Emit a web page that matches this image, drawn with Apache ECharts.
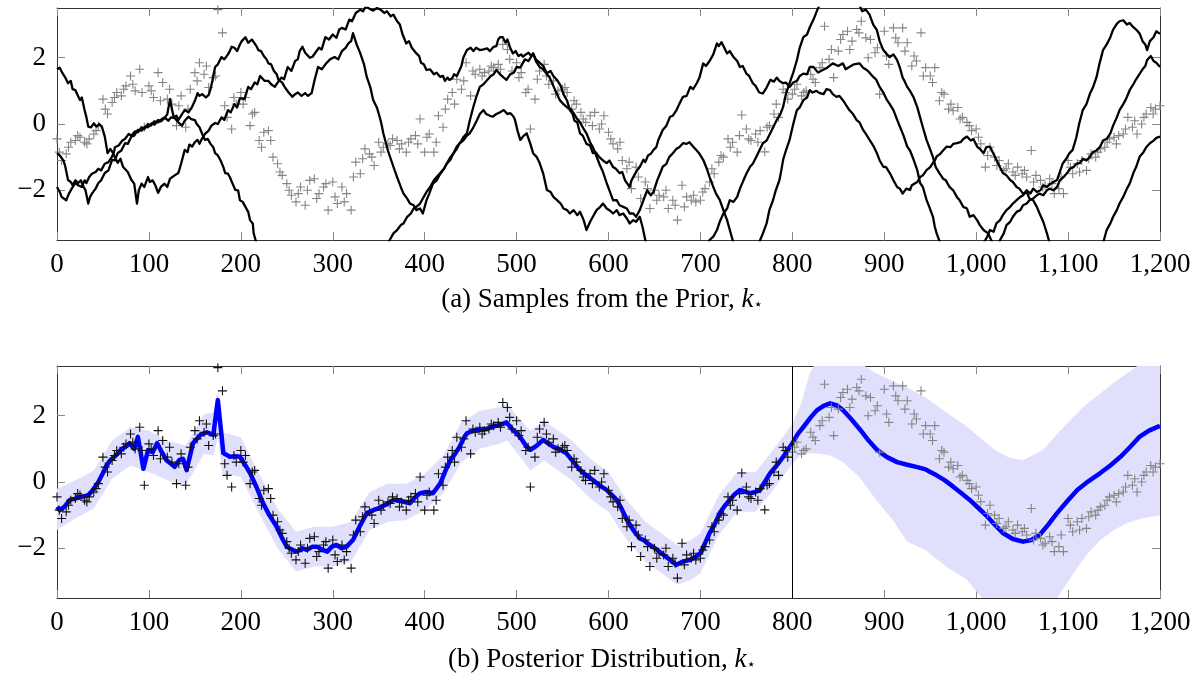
<!DOCTYPE html>
<html><head><meta charset="utf-8">
<script src="https://cdn.jsdelivr.net/npm/echarts@6/dist/echarts.min.js"></script>
<style>html,body{margin:0;padding:0;background:#fff}#c{width:1204px;height:695px}</style>
</head><body><div id="c"></div>
<script>
// ---------- data ----------
const xMin = 0, xMax = 1200, xStep = 100;
const yMin = -3.5, yMax = 3.5;
const yTickValues = [-2, 0, 2];
const splitX = 800;            // training / test boundary
const dataStep = 5;            // observations every 5 units, starting at 0
const dataY = [
  -0.45,-1.1,-0.9,-0.55,-0.5,-0.4,-0.55,-0.45,-0.3,-0.05,0.75,0.3,0.65,0.95,0.85,1.15,1.45,1.0,1.65,-0.1,
  1.15,0.8,1.55,1.25,0.75,0.6,-0.05,0.85,-0.1,1.05,1.55,1.85,1.5,1.1,1.4,3.45,2.75,0.2,-0.15,0.6,
  0.95,0.8,-0.05,0.35,-0.5,-0.25,-0.2,-1.0,-1.2,-1.55,-1.8,-2.15,-2.35,-1.9,-2.45,-1.7,-1.65,-2.1,-1.9,-2.6,
  -1.75,-2.4,-1.9,-2.1,-2.6,-1.15,-1.5,-0.75,-0.9,-1.25,-0.55,-0.7,-0.6,-0.45,-0.5,-0.6,-0.85,-0.45,-0.35,0.15,
  -0.85,-0.3,-0.85,0.25,-0.1,0.75,0.95,1.35,1.05,1.85,0.85,1.5,1.65,1.55,1.6,1.7,1.8,2.4,2.25,1.6,
  1.85,1.55,0.95,-0.15,0.75,1.6,1.8,1.2,1.3,1.0,1.05,0.95,0.45,0.6,0.35,0.05,0.25,0.35,-0.15,0.25,
  -0.25,-0.6,-0.75,-1.1,-1.35,-1.95,-1.3,-2.25,-1.75,-2.55,-2.0,-2.15,-2.2,-2.55,-2.3,-2.9,-1.85,-2.2,-2.3,-2.35,
  -2.3,-1.95,-1.75,-1.5,-1.15,-1.0,-0.45,-0.55,-0.85,0.27,-0.15,-0.5,-0.3,-0.2,-0.84,-0.05,0.3,0.2,1.05,0.75,
  0.9,1.2,0.85,1.0,1.5,1.25,1.7,2.95,1.95,1.4,2.2,2.7,2.8,2.5,2.85,3.1,2.6,2.55,2.15,0.9,
  2.8,1.8,2.9,2.45,2.9,2.45,1.75,1.9,2.75,1.7,1.45,1.7,0.7,0.9,0.45,0.4,0.5,0.2,0.05,-0.2,
  -0.15,-0.6,-1.3,-0.7,-1.0,-1.1,-1.4,-1.2,-1.45,-1.3,-1.5,-1.6,-0.8,-1.55,-1.7,-1.85,-1.65,-2.1,-1.95,-2.1,
  -1.1,-1.5,-1.2,-1.1,-1.4,-0.9,-1.0,-0.75,-0.7,-0.45,-0.4,-0.35,-0.3,0.2,-0.1,-0.3,0.0,0.3,0.5,0.45,0.55
];
const data2Start = 2.5, data2Step = 10;   // second interleaved set of observations
const dataY2 = [
  -0.85,-0.7,-0.35,-0.6,-0.2,0.45,0.8,1.05,1.2,0.95,
  1.0,0.7,1.05,0.55,0.45,1.3,1.75,1.45,0.55,0.8,
  0.6,0.3,-0.7,-0.5,-1.45,-2.0,-2.1,-2.0,-2.25,-1.8,
  -2.2,-2.35,-1.6,-1.05,-1.0,-0.85,-0.65,-0.75,-0.55,-0.6,
  -0.4,-0.55,0.45,0.6,1.3,1.6,1.45,1.75,1.65,1.95,
  1.4,1.05,1.35,1.45,0.9,1.1,0.7,0.15,-0.05,0.0,
  -0.45,-0.55,-1.15,-1.6,-1.95,-2.3,-2.0,-2.45,-2.5,-2.15,
  -2.05,-1.35,-0.95,-0.7,-0.35,-0.45,-0.55,-0.1,0.6,0.95,
  1.05,0.95,1.35,1.85,2.25,2.55,2.25,2.75,2.0,2.3,
  2.05,2.6,2.2,2.05,1.45,1.25,0.95,0.6,0.15,-0.05,
  -0.4,-0.95,-1.25,-1.35,-1.55,-1.4,-1.75,-1.9,-1.8,-1.6,
  -1.3,-1.45,-1.05,-0.85,-0.55,-0.6,-0.15,0.1,0.2,0.3
];

// posterior mean [x, y]
const posteriorMean = [[0,-0.75],[3,-0.85],[8,-0.75],[14,-0.54],[20,-0.5],[28,-0.44],[34,-0.4],[39,-0.24],[45,0.0],[50,0.27],[54,0.5],[58,0.66],[64,0.8],[69,0.96],[74,1.05],[79,1.17],[84,1.0],[88,1.36],[94,0.4],[99,0.96],[104,0.9],[109,1.17],[114,0.9],[119,0.66],[124,0.55],[128,0.46],[133,0.66],[137,0.7],[141,0.36],[148,1.17],[152,1.3],[156,1.42],[163,1.5],[170,1.42],[175,2.47],[181,0.87],[188,0.76],[194,0.78],[199,0.76],[205,0.5],[210,0.27],[217,-0.15],[224,-0.63],[231,-1.0],[239,-1.35],[245,-1.7],[250,-1.95],[256,-2.05],[261,-2.1],[267,-2.0],[272,-2.05],[278,-1.95],[283,-1.95],[289,-2.05],[294,-2.1],[299,-1.95],[304,-1.9],[310,-2.0],[315,-1.95],[322,-1.75],[330,-1.3],[337,-0.94],[344,-0.85],[351,-0.78],[358,-0.68],[366,-0.54],[375,-0.58],[384,-0.64],[390,-0.45],[395,-0.34],[402,-0.3],[409,-0.34],[417,-0.04],[422,0.3],[428,0.66],[433,0.85],[438,1.06],[442,1.3],[446,1.47],[453,1.55],[460,1.57],[467,1.6],[474,1.67],[482,1.72],[489,1.8],[496,1.57],[501,1.45],[506,1.27],[510,1.1],[515,0.97],[522,1.1],[529,1.27],[535,1.15],[540,1.06],[547,0.98],[554,0.87],[562,0.6],[569,0.36],[576,0.2],[583,0.06],[590,-0.1],[598,-0.24],[604,-0.4],[609,-0.54],[615,-0.85],[620,-1.14],[627,-1.45],[634,-1.7],[638,-1.75],[645,-1.9],[653,-2.05],[660,-2.2],[667,-2.35],[674,-2.5],[681,-2.4],[689,-2.35],[695,-2.25],[700,-2.15],[705,-1.85],[710,-1.54],[716,-1.25],[721,-0.94],[727,-0.7],[732,-0.54],[737,-0.38],[743,-0.24],[749,-0.3],[754,-0.34],[760,-0.3],[765,-0.24],[770,0.0],[776,0.27],[783,0.5],[790,0.76],[796,1.0],[801,1.21],[806,1.45],[812,1.66],[820,1.95],[827,2.17],[834,2.3],[841,2.37],[848,2.32],[855,2.17],[864,1.9],[874,1.57],[883,1.25],[892,0.97],[903,0.75],[914,0.6],[925,0.52],[936,0.45],[945,0.38],[950,0.3],[957,0.2],[966,0.05],[975,-0.14],[984,-0.34],[993,-0.54],[1003,-0.8],[1012,-1.04],[1020,-1.28],[1029,-1.54],[1040,-1.72],[1051,-1.8],[1060,-1.75],[1069,-1.6],[1078,-1.3],[1088,-0.94],[1099,-0.58],[1110,-0.24],[1122,0.02],[1135,0.27],[1146,0.5],[1157,0.76],[1168,1.07],[1178,1.37],[1188,1.55],[1198,1.67],[1200,1.7]];

// posterior band [x, lower, upper]
const posteriorBand = [[0,-1.45,-0.2],[20,-1.1,0.05],[40,-0.8,0.35],[60,0.1,1.25],[80,0.5,1.65],[100,0.3,1.55],[120,0.05,1.25],[140,-0.1,1.1],[160,0.85,2.05],[170,0.8,2.1],[175,1.3,2.8],[180,0.25,1.5],[200,0.15,1.35],[220,-0.95,0.25],[240,-2.0,-0.8],[260,-2.7,-1.5],[280,-2.55,-1.35],[300,-2.55,-1.35],[320,-2.4,-1.2],[340,-1.45,-0.3],[360,-1.2,-0.05],[380,-1.15,-0.05],[400,-0.85,0.25],[420,-0.35,0.8],[440,0.6,1.8],[460,1.0,2.15],[480,1.15,2.25],[490,1.25,2.35],[500,0.9,2.0],[515,0.35,1.55],[530,0.65,1.85],[560,0.05,1.25],[580,-0.5,0.7],[600,-0.9,0.3],[620,-1.75,-0.55],[640,-2.4,-1.2],[660,-2.8,-1.6],[675,-3.1,-1.9],[690,-2.95,-1.75],[700,-2.75,-1.55],[720,-1.6,-0.4],[740,-0.9,0.3],[760,-0.9,0.3],[780,-0.2,1.0],[800,0.55,1.75],[810,0.85,2.4],[819,0.87,3.3],[830,0.85,3.8],[841,0.8,4.0],[855,0.6,3.95],[873,0.15,3.6],[890,-0.5,3.3],[909,-1.14,3.05],[925,-1.8,2.85],[945,-2.05,2.55],[954,-2.26,2.37],[970,-2.6,2.05],[990,-2.95,1.67],[1006,-3.5,1.3],[1020,-3.9,0.97],[1035,-4.2,0.75],[1051,-4.3,0.66],[1073,-3.9,0.97],[1088,-3.5,1.45],[1106,-2.75,1.97],[1120,-2.2,2.35],[1135,-1.75,2.67],[1150,-1.45,3.0],[1164,-1.24,3.27],[1180,-1.1,3.6],[1200,-1.0,4.2]];

// prior samples [x, y] (values beyond +-3.5 lie outside the plot)
const sample1 = [[0,1.65],[3,1.7],[5,1.58],[7,1.62],[9,1.4],[12,1.23],[15,1.3],[17,1.05],[20,1.02],[22,0.9],[25,0.72],[27,0.8],[30,0.42],[32,0.2],[34,-0.08],[37,-0.1],[40,0.02],[43,-0.08],[46,0.0],[49,-0.1],[52,-0.38],[55,-0.88],[58,-0.75],[61,-0.88],[63,-1.0],[66,-1.17],[69,-1.05],[72,-1.3],[74,-1.28],[77,-1.45],[81,-1.69],[84,-1.8],[87,-2.4],[89,-2.0],[92,-1.8],[95,-1.9],[99,-1.6],[101,-1.75],[104,-1.7],[107,-1.85],[110,-2.08],[113,-1.9],[117,-1.8],[120,-1.9],[123,-1.65],[125,-1.69],[128,-1.55],[132,-1.48],[135,-1.2],[139,-0.78],[142,-0.85],[144,-0.62],[147,-0.68],[150,-0.55],[153,-0.48],[155,-0.6],[157,-0.48],[161,-0.3],[165,-0.2],[168,-0.05],[172,0.03],[175,0.0],[179,0.2],[182,0.12],[186,0.42],[189,0.35],[193,0.6],[196,0.5],[199,0.78],[201,0.82],[204,0.75],[208,1.12],[211,1.05],[215,1.25],[218,1.2],[221,1.45],[223,1.42],[226,1.3],[230,1.3],[233,1.2],[237,1.12],[240,1.25],[244,1.4],[247,1.35],[251,1.72],[255,1.6],[259,1.9],[262,1.95],[264,2.2],[267,2.33],[270,2.15],[272,2.2],[275,2.0],[278,2.03],[281,2.15],[285,2.3],[288,2.25],[292,2.62],[296,2.55],[300,2.7],[304,2.6],[307,2.85],[310,2.9],[314,2.85],[318,3.15],[321,3.1],[325,3.35],[330,3.45],[333,3.4],[336,3.55],[340,3.48],[344,3.42],[348,3.5],[352,3.45],[356,3.35],[359,3.4],[363,3.25],[366,3.3],[370,3.1],[373,3.0],[376,2.7],[380,2.43],[383,2.5],[386,2.3],[388,2.35],[391,2.13],[394,2.05],[396,1.85],[399,1.8],[402,1.63],[406,1.65],[410,1.5],[413,1.55],[417,1.42],[420,1.45],[422,1.3],[425,1.4],[427,1.33],[430,1.38],[432,1.5],[435,1.45],[438,1.63],[440,1.75],[442,2.0],[444,1.95],[446,2.23],[450,2.3],[453,2.2],[456,2.3],[460,2.23],[464,2.25],[468,2.28],[471,2.2],[475,2.33],[478,2.35],[480,2.55],[482,2.62],[485,2.62],[488,2.45],[490,2.55],[493,2.3],[496,2.13],[499,2.2],[502,2.05],[505,2.1],[507,2.03],[510,2.1],[513,2.15],[516,2.05],[518,2.13],[521,1.95],[525,1.85],[529,1.75],[533,1.53],[537,1.6],[540,1.45],[542,1.5],[544,1.33],[548,1.15],[551,0.9],[555,0.7],[558,0.42],[561,0.3],[563,0.1],[566,0.05],[569,-0.28],[572,-0.35],[576,-0.6],[580,-0.65],[583,-0.88],[586,-0.85],[590,-1.0],[594,-1.1],[598,-1.18],[601,-1.1],[605,-1.3],[608,-1.35],[612,-1.48],[615,-1.45],[618,-1.7],[620,-1.65],[623,-1.9],[625,-1.7],[628,-1.55],[631,-1.4],[634,-1.3],[638,-1.08],[640,-1.15],[643,-0.95],[646,-0.9],[649,-0.78],[652,-0.7],[654,-0.5],[656,-0.45],[659,-0.18],[663,-0.05],[667,0.22],[670,0.25],[674,0.42],[677,0.6],[681,0.82],[685,0.85],[689,1.12],[692,1.05],[696,1.23],[699,1.4],[703,1.83],[706,1.75],[710,1.9],[714,2.1],[718,2.43],[720,2.35],[723,2.47],[726,2.3],[729,2.13],[732,2.2],[736,2.02],[740,1.9],[743,1.72],[746,1.75],[750,1.52],[753,1.45],[757,1.23],[760,1.15],[764,0.95],[768,0.92],[772,1.1],[776,1.33],[780,1.28],[783,1.4],[786,1.3],[790,1.23],[793,1.25],[797,1.12],[801,1.25],[805,1.3],[808,1.45],[812,1.52],[816,1.5],[819,1.72],[823,1.72],[828,1.55],[833,1.63],[838,1.7],[844,1.83],[850,1.75],[855,1.83],[858,1.65],[862,1.72],[867,1.8],[873,1.83],[877,1.7],[881,1.63],[884,1.55],[888,1.42],[891,1.35],[895,1.12],[899,0.95],[903,0.72],[906,0.6],[910,0.42],[913,0.2],[917,-0.08],[921,-0.35],[925,-0.68],[928,-0.8],[932,-1.08],[936,-1.4],[939,-1.78],[942,-1.9],[946,-2.29],[949,-2.5],[953,-2.8],[955,-3.1],[957,-3.3],[961,-3.6],[980,-4.5],[1100,-4.5],[1138,-3.6],[1142,-3.2],[1146,-3.0],[1149,-2.8],[1153,-2.6],[1156,-2.4],[1160,-2.2],[1164,-1.95],[1167,-1.8],[1171,-1.48],[1174,-1.3],[1178,-0.98],[1182,-0.85],[1185,-0.7],[1189,-0.58],[1193,-0.5],[1196,-0.42],[1200,-0.38]];
const sample2 = [[0,-0.88],[3,-0.95],[5,-1.0],[7,-1.1],[9,-1.28],[12,-1.69],[15,-1.75],[17,-1.85],[20,-1.7],[23,-1.78],[26,-1.7],[28,-1.85],[31,-2.0],[34,-2.4],[36,-2.2],[38,-2.1],[42,-1.95],[45,-1.78],[48,-1.7],[52,-1.48],[56,-1.4],[60,-1.08],[63,-1.1],[66,-0.88],[70,-0.8],[74,-0.58],[77,-0.6],[81,-0.38],[84,-0.35],[88,-0.18],[92,-0.2],[96,-0.08],[99,-0.1],[103,0.02],[106,-0.02],[110,0.12],[113,0.08],[117,0.18],[120,0.3],[123,0.75],[125,0.45],[127,0.2],[130,0.25],[132,0.12],[136,0.3],[139,0.42],[143,0.35],[147,0.52],[150,0.7],[153,0.93],[155,0.85],[158,0.9],[162,0.8],[165,0.88],[167,1.05],[169,1.3],[172,1.72],[175,1.8],[179,2.02],[182,1.95],[186,2.1],[188,2.2],[190,2.33],[193,2.3],[196,2.2],[199,2.4],[201,2.5],[203,2.45],[205,2.62],[208,2.45],[210,2.4],[212,2.55],[214,2.5],[217,2.35],[219,2.23],[222,2.2],[225,2.05],[228,1.95],[230,1.83],[233,1.8],[236,1.6],[239,1.5],[241,1.33],[245,1.25],[248,1.1],[252,0.95],[256,0.82],[259,0.9],[262,0.95],[266,0.85],[270,0.93],[273,0.85],[277,0.93],[280,1.3],[284,1.72],[288,1.65],[292,1.8],[297,1.95],[302,2.02],[306,1.95],[310,2.2],[314,2.3],[317,2.43],[320,2.5],[322,2.74],[326,2.4],[330,2.13],[334,1.8],[337,1.42],[341,1.1],[344,0.72],[348,0.5],[351,0.22],[353,0.0],[355,-0.28],[360,-0.8],[366,-1.29],[370,-1.6],[374,-1.9],[377,-2.1],[381,-2.25],[384,-2.4],[388,-2.45],[391,-2.6],[395,-2.55],[398,-2.7],[400,-2.5],[402,-2.3],[405,-2.1],[409,-1.8],[413,-1.7],[417,-1.5],[421,-1.35],[424,-1.2],[428,-1.0],[431,-0.9],[435,-0.68],[439,-0.55],[442,-0.4],[446,-0.28],[449,0.1],[453,0.52],[456,0.8],[460,1.12],[464,1.2],[468,1.33],[472,1.45],[475,1.5],[478,1.63],[482,1.5],[486,1.4],[489,1.33],[493,1.5],[497,1.55],[500,1.72],[504,1.7],[509,1.95],[513,1.9],[518,2.13],[521,1.9],[525,1.72],[529,1.65],[533,1.5],[536,1.4],[540,1.15],[544,0.9],[547,0.72],[551,0.6],[555,0.5],[559,0.45],[562,0.33],[566,0.15],[569,0.05],[573,-0.15],[576,-0.28],[580,-0.55],[583,-0.7],[587,-0.98],[590,-1.2],[594,-1.45],[598,-1.78],[601,-2.0],[605,-2.3],[609,-2.3],[612,-2.45],[616,-2.5],[620,-2.55],[623,-2.7],[627,-2.7],[630,-2.8],[634,-2.6],[638,-2.3],[642,-2.0],[646,-2.15],[649,-2.05],[653,-1.7],[656,-1.5],[659,-1.29],[663,-1.2],[666,-1.0],[670,-0.88],[674,-0.75],[677,-0.7],[681,-0.58],[685,-0.6],[688,-0.55],[692,-0.68],[696,-0.8],[699,-0.9],[703,-1.08],[707,-1.35],[710,-1.6],[714,-1.9],[717,-2.1],[721,-2.29],[725,-2.6],[729,-2.9],[732,-3.2],[735,-3.5],[745,-4.3],[990,-4.3],[1008,-3.6],[1012,-3.4],[1015,-3.2],[1019,-3.25],[1022,-3.0],[1026,-2.9],[1029,-2.75],[1033,-2.6],[1037,-2.5],[1040,-2.4],[1044,-2.3],[1048,-2.2],[1051,-2.15],[1055,-2.0],[1059,-2.1],[1062,-1.95],[1066,-2.05],[1070,-2.0],[1073,-1.85],[1077,-1.9],[1081,-1.8],[1084,-1.75],[1088,-1.69],[1091,-1.45],[1094,-1.2],[1098,-1.05],[1101,-0.9],[1105,-0.78],[1109,-0.4],[1112,0.0],[1116,0.42],[1120,0.6],[1124,0.93],[1127,1.1],[1131,1.42],[1134,1.8],[1138,2.23],[1142,2.4],[1146,2.62],[1149,2.85],[1153,3.02],[1156,3.1],[1160,3.13],[1164,3.0],[1167,3.05],[1171,2.92],[1174,2.85],[1178,2.72],[1181,2.5],[1184,2.4],[1186,2.23],[1189,2.5],[1193,2.62],[1196,2.8],[1200,2.72]];
const sample3 = [[0,-1.9],[3,-2.05],[5,-2.2],[7,-2.15],[10,-2.3],[13,-2.1],[16,-1.95],[18,-2.0],[20,-1.78],[23,-1.85],[27,-1.9],[30,-1.7],[32,-1.78],[35,-1.6],[38,-1.5],[42,-1.45],[45,-1.35],[48,-1.4],[52,-1.2],[56,-1.15],[60,-0.98],[62,-0.85],[63,-0.7],[67,-0.65],[71,-0.5],[74,-0.45],[78,-0.3],[81,-0.35],[85,-0.22],[88,-0.25],[92,-0.1],[95,-0.15],[99,0.0],[102,-0.05],[106,0.08],[110,0.05],[114,0.15],[117,0.2],[121,0.1],[124,0.2],[128,0.18],[132,0.05],[136,-0.05],[139,0.1],[143,0.22],[146,0.15],[150,0.12],[152,0.0],[155,-0.1],[158,-0.3],[161,-0.48],[164,-0.45],[167,-0.6],[170,-0.7],[172,-0.88],[175,-0.95],[178,-1.1],[181,-1.3],[183,-1.48],[186,-1.5],[188,-1.6],[191,-1.8],[194,-1.99],[197,-2.0],[199,-2.3],[202,-2.35],[205,-2.5],[208,-2.65],[210,-2.9],[212,-2.85],[213,-3.0],[214,-3.3],[215,-3.4],[218,-3.7],[230,-4.2],[350,-4.2],[362,-3.5],[366,-3.3],[370,-3.2],[374,-3.05],[377,-3.0],[381,-2.8],[385,-2.7],[388,-2.55],[391,-2.5],[395,-2.4],[399,-2.2],[402,-2.05],[406,-1.9],[410,-1.7],[413,-1.6],[417,-1.48],[421,-1.35],[424,-1.2],[428,-1.08],[431,-0.9],[435,-0.75],[438,-0.58],[442,-0.5],[446,-0.35],[449,-0.28],[453,-0.1],[457,0.12],[460,0.3],[464,0.42],[467,0.3],[471,0.25],[474,0.22],[478,0.3],[482,0.35],[486,0.42],[490,0.3],[493,0.33],[496,0.25],[498,0.15],[501,-0.2],[504,-0.48],[508,-0.35],[511,-0.28],[515,-0.6],[518,-0.88],[522,-1.0],[525,-1.17],[529,-1.5],[533,-1.99],[537,-2.05],[540,-2.2],[544,-2.3],[548,-2.4],[551,-2.55],[555,-2.6],[558,-2.7],[562,-2.6],[566,-2.75],[569,-2.65],[573,-2.9],[576,-3.2],[580,-2.95],[583,-2.8],[587,-2.6],[591,-2.5],[594,-2.4],[598,-2.55],[601,-2.6],[605,-2.7],[609,-2.6],[612,-2.75],[616,-2.7],[620,-2.85],[623,-3.0],[627,-2.9],[630,-2.95],[634,-2.8],[637,-3.1],[640,-3.5],[650,-4.2],[700,-4.2],[710,-3.5],[714,-3.4],[718,-3.2],[721,-2.95],[725,-2.7],[729,-2.55],[732,-2.3],[736,-2.35],[740,-2.2],[743,-1.95],[747,-1.69],[750,-1.5],[754,-1.29],[757,-1.2],[761,-0.98],[765,-0.75],[768,-0.58],[772,-0.5],[776,-0.28],[780,-0.05],[783,0.12],[787,0.3],[790,0.52],[793,0.9],[797,1.23],[801,1.55],[805,1.93],[808,2.3],[812,2.62],[816,2.7],[819,2.92],[823,3.15],[827,3.43],[835,3.9],[850,4.3],[868,3.9],[876,3.4],[880,3.45],[884,3.3],[888,3.0],[892,2.83],[895,2.5],[899,2.23],[903,2.1],[906,2.02],[910,2.1],[914,1.93],[917,1.7],[920,1.4],[922,1.3],[925,1.12],[928,1.0],[932,0.8],[936,0.5],[939,0.2],[942,-0.1],[946,-0.48],[949,-0.7],[953,-1.0],[956,-1.3],[960,-1.48],[964,-1.65],[967,-1.7],[971,-1.9],[975,-2.0],[979,-2.2],[982,-2.3],[986,-2.5],[990,-2.55],[993,-2.8],[997,-2.75],[1001,-2.9],[1004,-3.05],[1008,-3.2],[1013,-3.3],[1018,-3.6],[1030,-4.3],[1200,-4.3]];
const sample4 = [[0,-4.3],[755,-4.3],[765,-3.5],[768,-3.3],[772,-3.0],[775,-2.6],[779,-2.3],[782,-2.0],[786,-1.69],[788,-1.4],[790,-1.08],[793,-0.8],[797,-0.48],[801,0.0],[805,0.42],[808,0.5],[812,0.72],[816,0.8],[819,1.02],[822,0.95],[826,1.0],[830,0.93],[834,0.9],[837,1.05],[841,1.02],[844,0.9],[848,0.82],[851,0.85],[855,0.72],[859,0.55],[862,0.42],[866,0.3],[870,0.12],[873,0.05],[877,-0.18],[880,-0.3],[884,-0.48],[888,-0.65],[892,-0.88],[895,-1.1],[899,-1.29],[902,-1.3],[906,-1.48],[910,-1.7],[914,-1.9],[917,-1.95],[920,-2.1],[924,-1.95],[928,-1.99],[930,-1.85],[932,-1.9],[936,-1.75],[939,-1.6],[942,-1.55],[946,-1.39],[950,-1.3],[953,-1.17],[955,-1.1],[957,-0.98],[961,-0.9],[964,-0.8],[968,-0.68],[972,-0.7],[975,-0.6],[979,-0.58],[983,-0.55],[986,-0.45],[990,-0.38],[994,-0.5],[997,-0.45],[1001,-0.68],[1004,-0.75],[1008,-0.88],[1011,-0.7],[1015,-0.68],[1018,-0.85],[1022,-1.08],[1025,-1.25],[1029,-1.48],[1033,-1.55],[1037,-1.69],[1040,-1.75],[1044,-1.9],[1047,-1.95],[1051,-2.1],[1055,-2.05],[1058,-2.25],[1062,-2.3],[1066,-2.5],[1069,-2.7],[1073,-2.95],[1077,-3.3],[1080,-3.6],[1090,-4.3],[1200,-4.3]];
const sample5 = [[0,-4.3],[1012,-4.3],[1026,-3.5],[1030,-3.3],[1033,-3.05],[1037,-2.95],[1040,-2.8],[1044,-2.65],[1048,-2.6],[1051,-2.45],[1055,-2.4],[1058,-2.3],[1062,-2.25],[1066,-2.15],[1069,-2.1],[1073,-2.15],[1077,-2.0],[1080,-1.95],[1084,-2.0],[1088,-1.9],[1091,-1.7],[1095,-1.6],[1099,-1.48],[1102,-1.35],[1106,-1.3],[1109,-1.2],[1113,-1.17],[1116,-1.05],[1120,-1.1],[1124,-0.98],[1127,-0.85],[1131,-0.8],[1135,-0.68],[1138,-0.5],[1142,-0.45],[1146,-0.28],[1149,-0.05],[1153,0.2],[1156,0.42],[1160,0.6],[1163,0.75],[1167,1.02],[1171,1.2],[1174,1.35],[1178,1.52],[1181,1.65],[1184,1.75],[1186,1.93],[1190,2.05],[1193,1.9],[1196,1.85],[1200,1.72]];

const captionA = '(a) Samples from the Prior, ';
const captionB = '(b) Posterior Distribution, ';

// ---------- chart ----------
const FONT = 'Liberation Serif';
const observations = dataY.map((v, i) => [i * dataStep, v])
  .concat(dataY2.map((v, i) => [data2Start + i * data2Step, v]));
const trainObs = observations.filter(p => p[0] < splitX);
const testObs = observations.filter(p => p[0] >= splitX);
const crossPath = 'path://M0,5L10,5M5,0L5,10';

function xAx(gridIndex, position) {
  const bottom = position === 'bottom';
  return {
    type: 'value', gridIndex, position, min: xMin, max: xMax, interval: xStep,
    axisLine: { show: true, onZero: false, lineStyle: { color: '#333', width: 1 } },
    axisTick: { show: true, inside: true, length: 8, lineStyle: { color: '#888', width: 1 } },
    axisLabel: { show: bottom, margin: 11, color: '#000', fontFamily: FONT, fontSize: 27,
      showMinLabel: true, showMaxLabel: true,
      formatter: v => v.toLocaleString('en-US') },
    splitLine: { show: false }
  };
}
function yAx(gridIndex, position) {
  const left = position === 'left';
  return {
    type: 'value', gridIndex, position, min: yMin, max: yMax,
    axisLine: { show: true, onZero: false, lineStyle: { color: '#333', width: 1 } },
    axisTick: { show: true, inside: true, length: 8, customValues: yTickValues, lineStyle: { color: '#888', width: 1 } },
    axisLabel: { show: left, margin: 11, color: '#000', fontFamily: FONT, fontSize: 27,
      customValues: yTickValues,
      formatter: v => (v < 0 ? '\u2212' + Math.abs(v) : String(v)) },
    splitLine: { show: false }
  };
}
function sampleSeries(pts) {
  return { type: 'line', xAxisIndex: 0, yAxisIndex: 0, data: pts, showSymbol: false, symbol: 'none',
    clip: true, silent: true, lineStyle: { color: '#000', width: 2.3, join: 'round' }, z: 3 };
}
function crossSeries(pts, xi, yi, color, z) {
  return { type: 'scatter', xAxisIndex: xi, yAxisIndex: yi, data: pts, symbol: crossPath, symbolSize: 9,
    clip: true, silent: true, itemStyle: { color: 'transparent', borderColor: color, borderWidth: 1.1, opacity: 1 }, z };
}
function caption(text, top) {
  return { text: text + '{i|k}{s|\u22C6}', left: 'center', top,
    textStyle: { fontFamily: FONT, fontSize: 27, fontWeight: 'normal', color: '#000',
      rich: { i: { fontFamily: FONT, fontSize: 27, fontStyle: 'italic', color: '#000' },
              s: { fontFamily: 'DejaVu Sans', fontSize: 15, color: '#000', padding: [12, 0, 0, 0] } } } };
}

const chart = echarts.init(document.getElementById('c'), null, { renderer: 'canvas' });
chart.setOption({
  animation: false,
  backgroundColor: '#fff',
  title: [caption(captionA, 281), caption(captionB, 641)],
  grid: [
    { left: 57, right: 44, top: 8, height: 232, containLabel: false },
    { left: 57, right: 44, top: 366, height: 232, containLabel: false }
  ],
  xAxis: [xAx(0, 'bottom'), xAx(0, 'top'), xAx(1, 'bottom'), xAx(1, 'top')],
  yAxis: [yAx(0, 'left'), yAx(0, 'right'), yAx(1, 'left'), yAx(1, 'right')],
  series: [
    crossSeries(observations, 0, 0, '#858585', 2),
    sampleSeries(sample1), sampleSeries(sample2), sampleSeries(sample3), sampleSeries(sample4), sampleSeries(sample5),
    {
      type: 'custom', xAxisIndex: 2, yAxisIndex: 2, clip: true, silent: true, z: 1,
      data: posteriorBand,
      encode: { x: 0, y: [1, 2] },
      renderItem: function (params, api) {
        if (params.dataIndex !== 0) return null;
        const pts = [];
        for (let i = 0; i < posteriorBand.length; i++) pts.push(api.coord([posteriorBand[i][0], posteriorBand[i][2]]));
        for (let i = posteriorBand.length - 1; i >= 0; i--) pts.push(api.coord([posteriorBand[i][0], posteriorBand[i][1]]));
        return { type: 'polygon', shape: { points: pts }, style: { fill: 'rgb(224,224,252)', stroke: null } };
      }
    },
    { type: 'line', xAxisIndex: 2, yAxisIndex: 2, data: posteriorMean, showSymbol: false, symbol: 'none',
      clip: true, silent: true, lineStyle: { color: '#0000ff', width: 4.5, join: 'round' }, z: 3,
      markLine: { silent: true, symbol: 'none', label: { show: false },
        lineStyle: { color: '#000', width: 1, type: 'solid' },
        data: [{ xAxis: splitX }] } },
    crossSeries(trainObs, 2, 2, '#111', 4),
    crossSeries(testObs, 2, 2, '#858585', 4)
  ]
});
</script>
</body></html>
